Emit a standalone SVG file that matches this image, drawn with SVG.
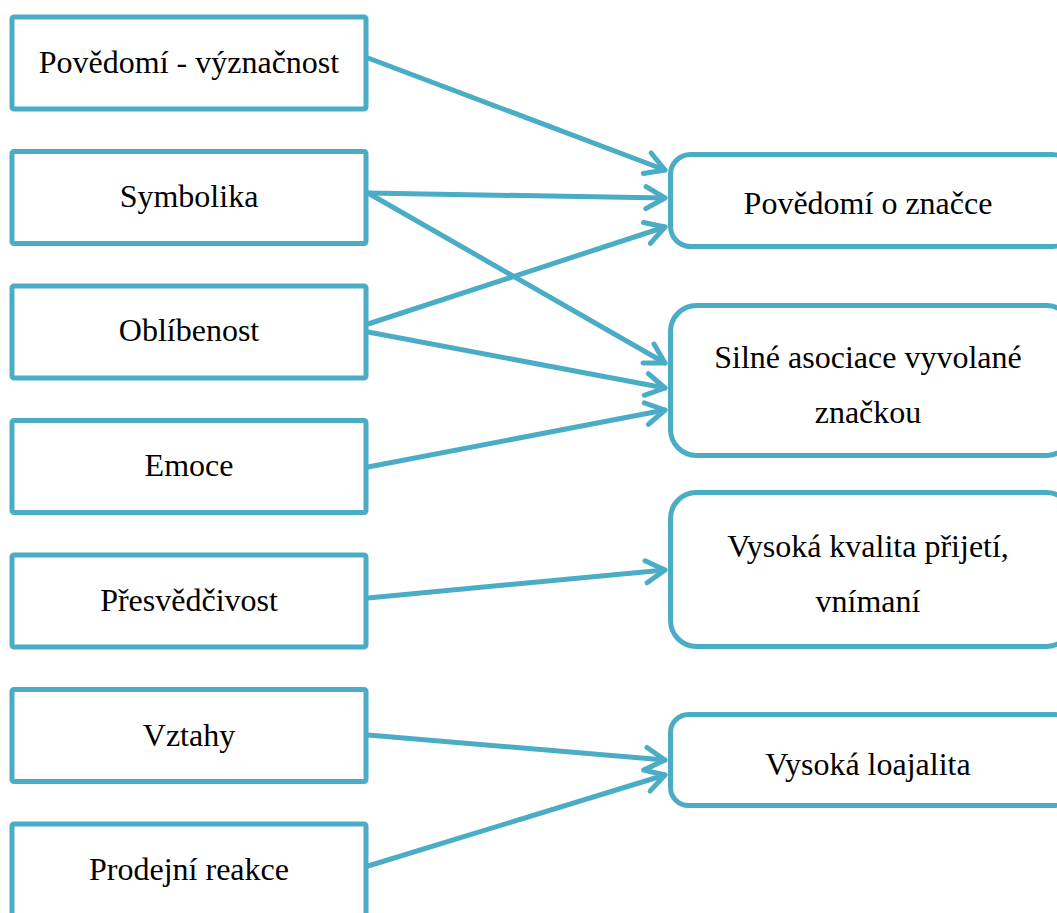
<svg xmlns="http://www.w3.org/2000/svg" width="1057" height="913" viewBox="0 0 1057 913">
<style>
.lb{fill:#ffffff;stroke:#4BACC6;stroke-width:5}
.rb{fill:#ffffff;stroke:#4BACC6;stroke-width:5}
.t{font-family:'Liberation Serif','Times New Roman',serif;font-size:32px;fill:#000000;text-anchor:middle}
.c{fill:none;stroke:#4BACC6;stroke-width:5;stroke-linecap:round;marker-end:url(#arr)}
</style>
<defs>
<marker id="arr" markerUnits="userSpaceOnUse" markerWidth="40" markerHeight="40" viewBox="-30 -20 40 40" refX="0" refY="0" orient="auto" overflow="visible">
<path d="M-19,-11 L0,0 L-19,11" fill="none" stroke="#4BACC6" stroke-width="5" stroke-linecap="round" stroke-linejoin="round"/>
</marker>
</defs>
<rect width="1057" height="913" fill="#ffffff"/>
<g id="n1"><rect class="lb" x="12" y="17" width="354" height="92" rx="2"/><text class="t" x="189" y="73">Povědomí - význačnost</text></g>
<g id="n2"><rect class="lb" x="12" y="151.5" width="354" height="92" rx="2"/><text class="t" x="189" y="207">Symbolika</text></g>
<g id="n3"><rect class="lb" x="12" y="286" width="354" height="92" rx="2"/><text class="t" x="189" y="341">Oblíbenost</text></g>
<g id="n4"><rect class="lb" x="12" y="420.5" width="354" height="92" rx="2"/><text class="t" x="189" y="476">Emoce</text></g>
<g id="n5"><rect class="lb" x="12" y="555" width="354" height="92" rx="2"/><text class="t" x="189" y="611">Přesvědčivost</text></g>
<g id="n6"><rect class="lb" x="12" y="689.5" width="354" height="92" rx="2"/><text class="t" x="189" y="746">Vztahy</text></g>
<g id="n7"><rect class="lb" x="12" y="824" width="354" height="120" rx="2"/><text class="t" x="189" y="880">Prodejní reakce</text></g>
<g id="r1"><rect class="rb" x="670.5" y="154.5" width="402" height="92" rx="20"/><text class="t" x="868" y="214">Povědomí o značce</text></g>
<g id="r2"><rect class="rb" x="670.5" y="305.5" width="402" height="150" rx="26"/><text class="t" x="868" y="368">Silné asociace vyvolané</text><text class="t" x="868" y="423">značkou</text></g>
<g id="r3"><rect class="rb" x="670.5" y="492.5" width="402" height="154" rx="26"/><text class="t" x="868" y="557">Vysoká kvalita přijetí,</text><text class="t" x="868" y="612">vnímaní</text></g>
<g id="r4"><rect class="rb" x="670.5" y="714.5" width="402" height="91" rx="18"/><text class="t" x="868" y="775">Vysoká loajalita</text></g>
<g id="connectors">
<line class="c" x1="368" y1="58" x2="665" y2="170"/>
<line class="c" x1="368" y1="193" x2="665" y2="198"/>
<line class="c" x1="368" y1="193" x2="665" y2="363"/>
<line class="c" x1="368" y1="324" x2="665" y2="227"/>
<line class="c" x1="368" y1="332" x2="665" y2="388"/>
<line class="c" x1="368" y1="467" x2="665" y2="410"/>
<line class="c" x1="368" y1="598" x2="665" y2="570"/>
<line class="c" x1="368" y1="735" x2="665" y2="760"/>
<line class="c" x1="368" y1="866" x2="665" y2="775"/>
</g>
</svg>
